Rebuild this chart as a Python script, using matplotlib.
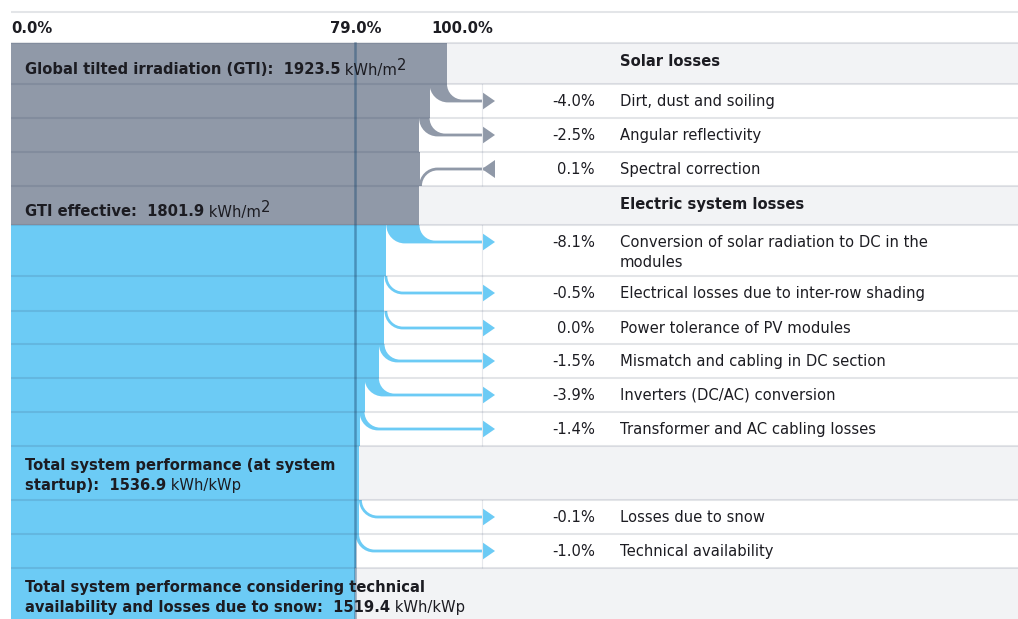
import matplotlib.pyplot as plt
from matplotlib.patches import PathPatch, Polygon, Rectangle
from matplotlib.path import Path

# energy yield figures
gti = 1923.5            # kWh/m2
gti_effective = 1801.9  # kWh/m2
yield_startup = 1536.9  # kWh/kWp
yield_final = 1519.4    # kWh/kWp

solar_labels = ["Dirt, dust and soiling", "Angular reflectivity", "Spectral correction"]
solar_pct = [-4.0, -2.5, 0.1]

electric_labels = [
    "Conversion of solar radiation to DC in the\nmodules",
    "Electrical losses due to inter-row shading",
    "Power tolerance of PV modules",
    "Mismatch and cabling in DC section",
    "Inverters (DC/AC) conversion",
    "Transformer and AC cabling losses",
]
electric_pct = [-8.1, -0.5, 0.0, -1.5, -3.9, -1.4]

snow_labels = ["Losses due to snow", "Technical availability"]
snow_pct = [-0.1, -1.0]

# table layout (pixels)
W, H = 1018, 619
row_edges = [43, 84, 118, 152, 186, 225, 276, 311, 344, 378, 412, 446, 500, 534, 568, 640]
X0, KX = 11, 4.36          # bar origin and pixels per percent
PCT_X, DESC_X, HEAD_X = 595, 620, 482
LINE_STEP = 20

GREY = "#9099a8"
BLUE = "#6ccbf5"
ROW_BG = "#f2f3f5"
TXT = "#1c1c22"
FS = 10.6

plt.rcParams["font.family"] = ["DejaVu Sans"]

pr_final = yield_final / gti * 100

# build the rows: header rows carry a total, loss rows carry one factor
rows = []
rows.append(dict(kind="head", value=100.0, color=GREY,
                 left=("Global tilted irradiation (GTI):  %.1f" % gti, "kWh/m", "2"),
                 title="Solar losses"))
v = 100.0
for lab, p in zip(solar_labels, solar_pct):
    prev, v = v, v * (1 + p / 100)
    rows.append(dict(kind="loss", prev=prev, value=v, color=GREY, pct=p, label=lab))
v = gti_effective / gti * 100
rows.append(dict(kind="head", value=v, color=GREY,
                 left=("GTI effective:  %.1f" % gti_effective, "kWh/m", "2"),
                 title="Electric system losses"))
for lab, p in zip(electric_labels, electric_pct):
    prev, v = v, v * (1 + p / 100)
    rows.append(dict(kind="loss", prev=prev, value=v, color=BLUE, pct=p, label=lab))
v = yield_startup / gti * 100
rows.append(dict(kind="head", value=v, color=BLUE,
                 left=("Total system performance (at system\nstartup):  %.1f" % yield_startup,
                       "kWh/kWp", None),
                 title=None))
for lab, p in zip(snow_labels, snow_pct):
    prev, v = v, v * (1 + p / 100)
    rows.append(dict(kind="loss", prev=prev, value=v, color=BLUE, pct=p, label=lab))
rows.append(dict(kind="head", value=pr_final, color=BLUE,
                 left=("Total system performance considering technical\n"
                       "availability and losses due to snow:  %.1f" % yield_final,
                       "kWh/kWp", None),
                 title=None))

fig = plt.figure(figsize=(W / 100, H / 100), dpi=100)
fig.patch.set_facecolor("white")

# background layer, bar layer (percent scale) and text layer
ax = fig.add_axes([0, 0, 1, 1])
ax.set_xlim(0, W)
ax.set_ylim(H, 0)
ax.axis("off")

bx = fig.add_axes([0, 0, 1, 1])
bx.set_xlim(-X0 / KX, (W - X0) / KX)
bx.set_ylim(H, 0)
bx.axis("off")
bx.patch.set_visible(False)

tx = fig.add_axes([0, 0, 1, 1])
tx.set_xlim(0, W)
tx.set_ylim(H, 0)
tx.axis("off")
tx.patch.set_visible(False)


def px(x):
    """pixel column -> percent axis"""
    return (x - X0) / KX


def lines(x, base, s, **kw):
    """draw a multi-line string line by line, return the last line"""
    t = None
    for j, line in enumerate(s.split("\n")):
        t = tx.text(x, base + j * LINE_STEP, line, va="baseline", fontsize=FS,
                    color=TXT, zorder=5, **kw)
    return t


K = 0.5523
LH = 1.4   # half width of the arrow stem


def loss_flow(top, y, new, prev, color):
    w = max(prev - new, 2 * LH / KX)
    right = new + w
    rl = y + LH - top
    rr = y - LH - top
    stem = px(HEAD_X + 1)
    verts = [
        (new, top),
        (new, top + K * rl), (new + (1 - K) * rl / KX, y + LH), (new + rl / KX, y + LH),
        (stem, y + LH),
        (stem, y - LH),
        (right + rr / KX, y - LH),
        (right + (1 - K) * rr / KX, y - LH), (right, top + K * rr), (right, top),
        (new, top),
    ]
    codes = [Path.MOVETO] + [Path.CURVE4] * 3 + [Path.LINETO] * 3 + [Path.CURVE4] * 3 + [Path.CLOSEPOLY]
    bx.add_patch(PathPatch(Path(verts, codes), facecolor=color, edgecolor="none", zorder=3))
    b = px(HEAD_X)
    bx.add_patch(Polygon([(b, y - 9), (b + 13 / KX, y), (b, y + 9)],
                         closed=True, facecolor=color, edgecolor="none", zorder=3))


def gain_flow(bot, y, prev, new, color):
    w = max(new - prev, 2 * LH / KX)
    right = prev + w
    ro = bot - (y - LH)
    ri = bot - (y + LH)
    stem = px(HEAD_X + 6)
    verts = [
        (prev, bot),
        (prev, bot - K * ro), (prev + (1 - K) * ro / KX, y - LH), (prev + ro / KX, y - LH),
        (stem, y - LH),
        (stem, y + LH),
        (right + ri / KX, y + LH),
        (right + (1 - K) * ri / KX, y + LH), (right, bot - K * ri), (right, bot),
        (prev, bot),
    ]
    codes = [Path.MOVETO] + [Path.CURVE4] * 3 + [Path.LINETO] * 3 + [Path.CURVE4] * 3 + [Path.CLOSEPOLY]
    bx.add_patch(PathPatch(Path(verts, codes), facecolor=color, edgecolor="none", zorder=3))
    t = px(HEAD_X)
    bx.add_patch(Polygon([(t + 13 / KX, y - 9), (t, y), (t + 13 / KX, y + 9)],
                         closed=True, facecolor=color, edgecolor="none", zorder=3))


for i, r in enumerate(rows):
    top, bot = row_edges[i], row_edges[i + 1]
    if r["kind"] == "head":
        ax.add_patch(Rectangle((X0, top), W - X0, bot - top, facecolor=ROW_BG, edgecolor="none"))
    else:
        tx.plot([HEAD_X, HEAD_X], [top, bot], color="#e6e8ec", lw=0.8, zorder=1)

    # the bar keeps the value reached after this row
    bx.barh((top + bot) / 2, r["value"], height=bot - top, left=0,
            color=r["color"], edgecolor="none", zorder=2)

    if r["kind"] == "loss":
        y = top + 17
        if r["pct"] > 0:
            gain_flow(bot, y, r["prev"], r["value"], r["color"])
        else:
            loss_flow(top, y, r["value"], r["prev"], r["color"])
        lines(PCT_X, y + 5, "%.1f%%" % r["pct"], ha="right")
        lines(DESC_X, y + 5, r["label"], ha="left")
    else:
        main, unit, sup = r["left"]
        if "\n" in main:
            base = top + 24
        else:
            base = (top + bot) / 2 + 11
        t = lines(25, base, main, ha="left", fontweight="bold")
        u = tx.annotate(" " + unit, xy=(1, 0), xycoords=t, ha="left", va="bottom",
                        fontsize=FS, color=TXT, zorder=5)
        if sup:
            tx.annotate(sup, xy=(1, 0.78), xycoords=u, ha="left", va="center",
                        fontsize=FS, color=TXT, zorder=5)
        if r["title"]:
            lines(DESC_X, top + 23, r["title"], ha="left", fontweight="bold")

# row separators
for yy in [12] + row_edges[:-1]:
    tx.plot([X0, W], [yy, yy], color=(0.16, 0.22, 0.33, 0.13), lw=1.5,
            solid_capstyle="butt", zorder=4)

# performance ratio marker
bx.plot([pr_final, pr_final], [row_edges[0], H], color="#1d4a73", alpha=0.45,
        lw=1.8, zorder=4)

# percent scale labels
bx.text(0, 33, "%.1f%%" % 0.0, ha="left", va="baseline", fontsize=FS,
        fontweight="bold", color=TXT)
bx.text(pr_final, 33, "%.1f%%" % pr_final, ha="center", va="baseline", fontsize=FS,
        fontweight="bold", color=TXT)
bx.annotate("%.1f%%" % 100.0, xy=(100, 33), xytext=(-11, 0), textcoords="offset points",
            ha="left", va="baseline", fontsize=FS, fontweight="bold", color=TXT)

fig.savefig("out.png", dpi=100)
